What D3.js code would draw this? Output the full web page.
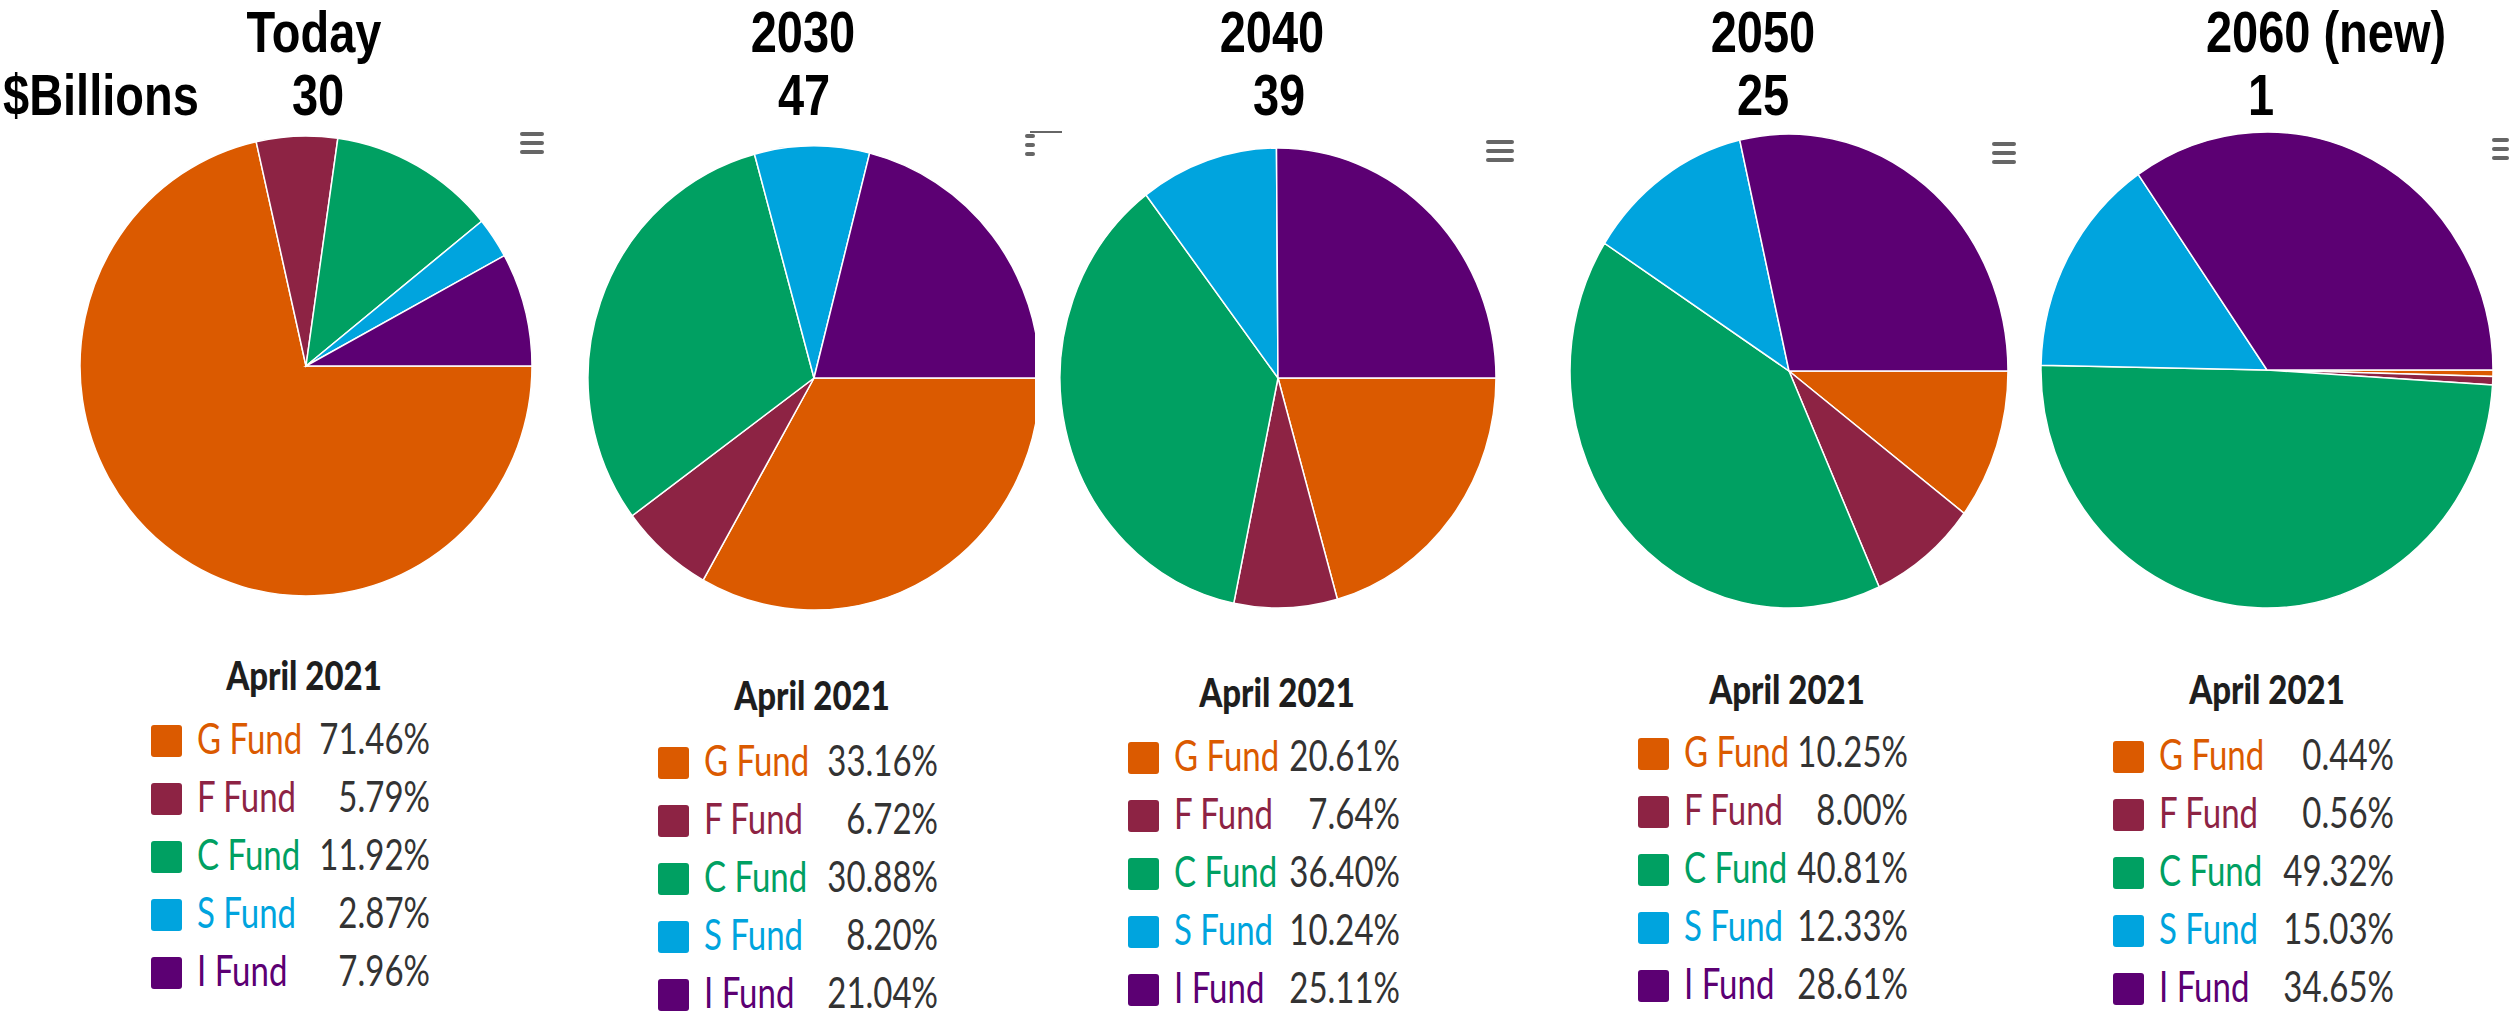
<!DOCTYPE html>
<html>
<head>
<meta charset="utf-8">
<script src="https://cdn.jsdelivr.net/npm/d3@7"></script>
<style>
  html, body { margin: 0; padding: 0; background: #fff; }
  svg { display: block; }
</style>
</head>
<body>
<div id="viz-wrapper"></div>
<script>
  // size of the whole picture
  var width = 2509,
      height = 1013;

  // funds, in the order the slices and legend rows are drawn
  var funds = ["G Fund", "F Fund", "C Fund", "S Fund", "I Fund"];
  var fundColors = ["#db5a00", "#8d2344", "#00a062", "#00a4de", "#5c0073"];

  // one pie per L fund horizon
  var periods = ["Today", "2030", "2040", "2050", "2060 (new)"];
  var billions = ["30", "47", "39", "25", "1"];
  var legendTitle = "April 2021";

  // allocation (%) per fund, April 2021
  var shareToday = [71.46, 5.79, 11.92, 2.87, 7.96];
  var share2030 = [33.16, 6.72, 30.88, 8.20, 21.04];
  var share2040 = [20.61, 7.64, 36.40, 10.24, 25.11];
  var share2050 = [10.25, 8.00, 40.81, 12.33, 28.61];
  var share2060 = [0.44, 0.56, 49.32, 15.03, 34.65];
  var shares = [shareToday, share2030, share2040, share2050, share2060];

  // layout of each panel (pie centre, radii, titles, legend)
  var panels = [
    {cx: 306, cy: 366, rx: 226, ry: 230, tx: 314, nx: 318, clip: null,
     lx: 304, ly: 690, sq: 151, val: 430, row0: 741},
    {cx: 814, cy: 378, rx: 226, ry: 232, tx: 803, nx: 804, clip: 1035,
     lx: 812, ly: 710, sq: 658, val: 938, row0: 763},
    {cx: 1278, cy: 378, rx: 218, ry: 230, tx: 1272, nx: 1279, clip: null,
     lx: 1277, ly: 707, sq: 1128, val: 1400, row0: 758},
    {cx: 1789, cy: 371, rx: 219, ry: 237, tx: 1763, nx: 1763, clip: null,
     lx: 1787, ly: 704, sq: 1638, val: 1908, row0: 754},
    {cx: 2267, cy: 370, rx: 226, ry: 238, tx: 2326, nx: 2261, clip: null,
     lx: 2267, ly: 704, sq: 2113, val: 2394, row0: 757}
  ];
  var rowStep = 58;

  var svg = d3.select("#viz-wrapper")
    .append("svg")
    .attr("width", width)
    .attr("height", height);

  var color = d3.scaleOrdinal().domain(funds).range(fundColors);

  // slices start at 3 o'clock and run clockwise, like the original
  var pie = d3.pie()
    .sort(null)
    .startAngle(Math.PI / 2)
    .endAngle(Math.PI / 2 + 2 * Math.PI)
    .value(function(d) { return d.value; });

  var defs = svg.append("defs");

  // text in the screenshot is a bit stretched vertically
  function tallText(parent, x, y, k) {
    return parent.append("text")
      .attr("transform", "translate(" + x + "," + y + ") scale(1," + k + ")");
  }

  var titleFont = "bold 47px 'Liberation Sans', Arial, sans-serif";

  panels.forEach(function(p, i) {
    var data = funds.map(function(f, j) { return {fund: f, value: shares[i][j]}; });

    var g = svg.append("g");
    if (p.clip) {
      defs.append("clipPath").attr("id", "clip" + i)
        .append("rect").attr("x", 0).attr("y", 0).attr("width", p.clip).attr("height", height);
      g.attr("clip-path", "url(#clip" + i + ")");
    }

    var arc = d3.arc().innerRadius(0).outerRadius(p.rx);

    g.append("g")
      .attr("transform", "translate(" + p.cx + "," + p.cy + ") scale(1," + (p.ry / p.rx) + ")")
      .selectAll("path")
      .data(pie(data))
      .enter()
      .append("path")
      .attr("d", arc)
      .attr("fill", function(d) { return color(d.data.fund); })
      .attr("stroke", "#fff")
      .attr("stroke-width", 1.5)
      .attr("vector-effect", "non-scaling-stroke");

    // period title and assets in $ billions
    tallText(svg, p.tx, 52, 1.22)
      .attr("text-anchor", "middle")
      .style("font", titleFont)
      .text(periods[i]);
    tallText(svg, p.nx, 115, 1.22)
      .attr("text-anchor", "middle")
      .style("font", titleFont)
      .text(billions[i]);

    // legend
    tallText(svg, p.lx, p.ly, 1.2)
      .attr("text-anchor", "middle")
      .attr("fill", "#1e1e1e")
      .style("font", "900 33px Lato, sans-serif")
      .text(legendTitle);

    var rows = svg.append("g").selectAll("g")
      .data(data)
      .enter()
      .append("g")
      .attr("transform", function(d, j) { return "translate(0," + (p.row0 + j * rowStep) + ")"; });

    rows.append("rect")
      .attr("x", p.sq).attr("y", -16)
      .attr("width", 31).attr("height", 32)
      .attr("rx", 3)
      .attr("fill", function(d) { return color(d.fund); });

    rows.append("text")
      .attr("transform", "translate(" + (p.sq + 46) + ",13) scale(1,1.27)")
      .attr("fill", function(d) { return color(d.fund); })
      .style("font", "33px Lato, sans-serif")
      .text(function(d) { return d.fund; });

    rows.append("text")
      .attr("transform", "translate(" + p.val + ",13) scale(1,1.27)")
      .attr("text-anchor", "end")
      .attr("fill", "#333")
      .style("font", "33px Lato, sans-serif")
      .text(function(d) { return d.value.toFixed(2) + "%"; });
  });

  // "$Billions" row label
  tallText(svg, 3, 115, 1.22)
    .style("font", titleFont)
    .text("$Billions");

  // chart menu buttons (three grey bars)
  var menus = [[520, 132, 24], [1025, 134, 10], [1486, 140, 28], [1992, 142, 24], [2492, 138, 17]];
  menus.forEach(function(m) {
    svg.append("g").selectAll("rect")
      .data([0, 1, 2])
      .enter()
      .append("rect")
      .attr("x", m[0]).attr("y", function(k) { return m[1] + k * 9; })
      .attr("width", m[2]).attr("height", 4)
      .attr("rx", 2)
      .attr("fill", "#666");
  });
  // menu edge line next to the cut 2030 chart
  svg.append("rect").attr("x", 1030).attr("y", 131).attr("width", 32).attr("height", 2).attr("fill", "#666");
</script>
</body>
</html>
